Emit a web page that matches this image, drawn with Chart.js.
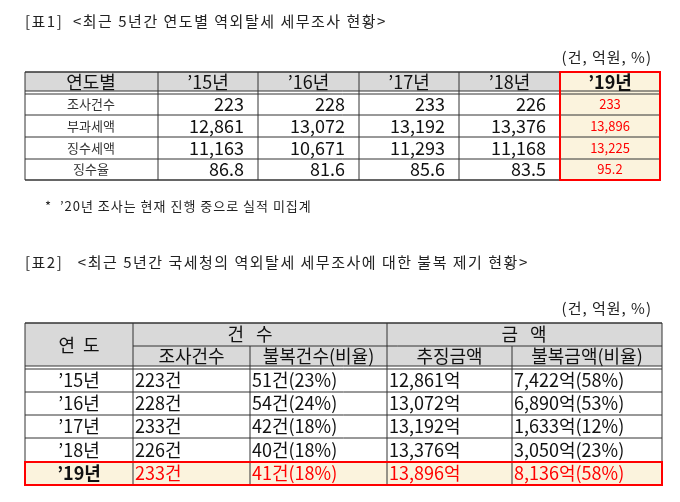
<!DOCTYPE html>
<html><head><meta charset="utf-8">
<script src="https://cdn.jsdelivr.net/npm/chart.js@4"></script>
<style>body{margin:0;background:#fff}canvas{display:block}</style>
</head><body>
<canvas id="c" width="680" height="502"></canvas>
<script>
// 표1 data
const years = ['\u201915년', '\u201916년', '\u201917년', '\u201918년', '\u201919년'];
const t1Rows = ['조사건수', '부과세액', '징수세액', '징수율'];
const auditCount = [223, 228, 233, 226, 233];
const taxImposed = [12861, 13072, 13192, 13376, 13896];
const taxCollected = [11163, 10671, 11293, 11168, 13225];
const collectRate = [86.8, 81.6, 85.6, 83.5, 95.2];
// 표2 data
const appealCount = [51, 54, 42, 40, 41];
const appealCountPct = [23, 24, 18, 18, 18];
const appealAmount = [7422, 6890, 1633, 3050, 8136];
const appealAmountPct = [58, 53, 12, 23, 58];

const FONT = '"Noto Sans CJK KR", "Noto Sans", sans-serif';
const fmt = v => v.toLocaleString('en-US');

const tablePlugin = {
  id: 'tables',
  afterDraw(chart) {
    const c = chart.ctx, X = chart.scales.x, Y = chart.scales.y;
    const px = v => X.getPixelForValue(v), py = v => Y.getPixelForValue(v);
    const text = (s, x, y, size, align, color, bold, sp) => {
      c.font = (bold ? 'bold ' : '') + size + 'px ' + FONT; c.fillStyle = color || '#111';
      c.letterSpacing = (sp || 0) + 'px';
      c.textAlign = align || 'left'; c.textBaseline = 'middle';
      c.fillText(s, px(x), py(y));
      c.letterSpacing = '0px';
    };
    const rect = (x0, y0, x1, y1, fill) => {
      c.fillStyle = fill; c.fillRect(px(x0), py(y0), px(x1) - px(x0), py(y1) - py(y0));
    };
    const line = (x0, y0, x1, y1, w, col) => {
      c.strokeStyle = col || '#333'; c.lineWidth = w || 1;
      c.beginPath(); c.moveTo(px(x0), py(y0)); c.lineTo(px(x1), py(y1)); c.stroke();
    };
    const box = (x0, y0, x1, y1, w, col) => {
      c.strokeStyle = col; c.lineWidth = w; c.strokeRect(px(x0), py(y0), px(x1) - px(x0), py(y1) - py(y0));
    };
    c.save();

    // ---- 표1 ----
    text('[표1]  <최근 5년간 연도별 역외탈세 세무조사 현황>', 25, 21, 15, 'left', '#222', false, 1.5);
    text('(건, 억원, %)', 652, 57, 15, 'right', '#222', false, 1);
    const cx = [25, 158, 258, 359, 459, 560, 660];
    const ry = [72, 91, 115, 137, 159, 180];
    rect(25, 72, 560, 91, '#d9d9d9');
    rect(560, 72, 660, 180, '#fbf3dd');
    ry.forEach((y, i) => line(25, y, 660, y, i === 0 || i === 5 ? 1.5 : 1));
    line(25, 94, 660, 94, 1);
    cx.forEach(x => line(x, 72, x, 180, 1));
    text('연도별', 91, 82, 18, 'center');
    years.forEach((yr, j) => text(yr, (cx[j + 1] + cx[j + 2]) / 2, 82, 18, 'center', '#111', j === 4));
    const t1Vals = [auditCount.map(fmt), taxImposed.map(fmt), taxCollected.map(fmt), collectRate.map(v => v.toFixed(1))];
    t1Rows.forEach((lab, i) => {
      const y = (ry[i + 1] + ry[i + 2]) / 2 + (i === 0 ? 1 : 0);
      text(lab, 91, y, 13, 'center', '#333');
      t1Vals[i].forEach((s, j) => {
        if (j < 4) text(s, cx[j + 2] - 14, y, 18, 'right');
        else text(s, 610, y, 13, 'center', '#f00');
      });
    });
    box(560, 72, 660, 180, 2, '#f00');
    text('*  \u201920년 조사는 현재 진행 중으로 실적 미집계', 45, 206, 13, 'left', '#222', false, 1);

    // ---- 표2 ----
    text('[표2]   <최근 5년간 국세청의 역외탈세 세무조사에 대한 불복 제기 현황>', 25, 262, 15, 'left', '#222', false, 1.5);
    text('(건, 억원, %)', 652, 308, 15, 'right', '#222', false, 1);
    const dx = [25, 133, 250, 387, 512, 662];
    const dy = [323, 346, 366, 392, 415, 438, 462, 485];
    rect(25, 323, 662, 366, '#d9d9d9');
    rect(25, 462, 662, 485, '#fbf3dd');
    line(25, 323, 662, 323, 1.5);
    line(133, 346, 662, 346, 1);
    line(25, 366, 662, 366, 1);
    line(25, 369, 662, 369, 1);
    dy.slice(3).forEach(y => line(25, y, 662, y, 1));
    dx.forEach((x, i) => line(x, i === 2 || i === 4 ? 346 : 323, x, 485, 1));
    text('연  도', 79, 345, 18, 'center');
    text('건   수', 250, 334, 18, 'center');
    text('금   액', 524, 334, 18, 'center');
    ['조사건수', '불복건수(비율)', '추징금액', '불복금액(비율)'].forEach((s, j) =>
      text(s, (dx[j + 1] + dx[j + 2]) / 2, 356, 18, 'center'));
    years.forEach((yr, i) => {
      const yy = i === 0 ? (369 + 392) / 2 : (dy[i + 2] + dy[i + 3]) / 2;
      const last = i === 4, col = last ? '#f00' : '#111';
      text(yr, 79, yy, 18, 'center', '#111', last);
      text(auditCount[i] + '건', 135, yy, 18, 'left', col);
      text(appealCount[i] + '건(' + appealCountPct[i] + '%)', 252, yy, 18, 'left', col);
      text(fmt(taxImposed[i]) + '억', 389, yy, 18, 'left', col);
      text(fmt(appealAmount[i]) + '억(' + appealAmountPct[i] + '%)', 514, yy, 18, 'left', col);
    });
    box(25, 462, 662, 485, 2, '#f00');
    c.restore();
  }
};

new Chart(document.getElementById('c'), {
  type: 'scatter',
  data: { datasets: [{ data: [] }] },
  options: {
    responsive: false, animation: false,
    layout: { padding: 0 },
    plugins: { legend: { display: false }, tooltip: { enabled: false } },
    scales: {
      x: { type: 'linear', min: 0, max: 680, display: false },
      y: { type: 'linear', min: 0, max: 502, reverse: true, display: false }
    }
  },
  plugins: [tablePlugin]
});
</script>
</body></html>
